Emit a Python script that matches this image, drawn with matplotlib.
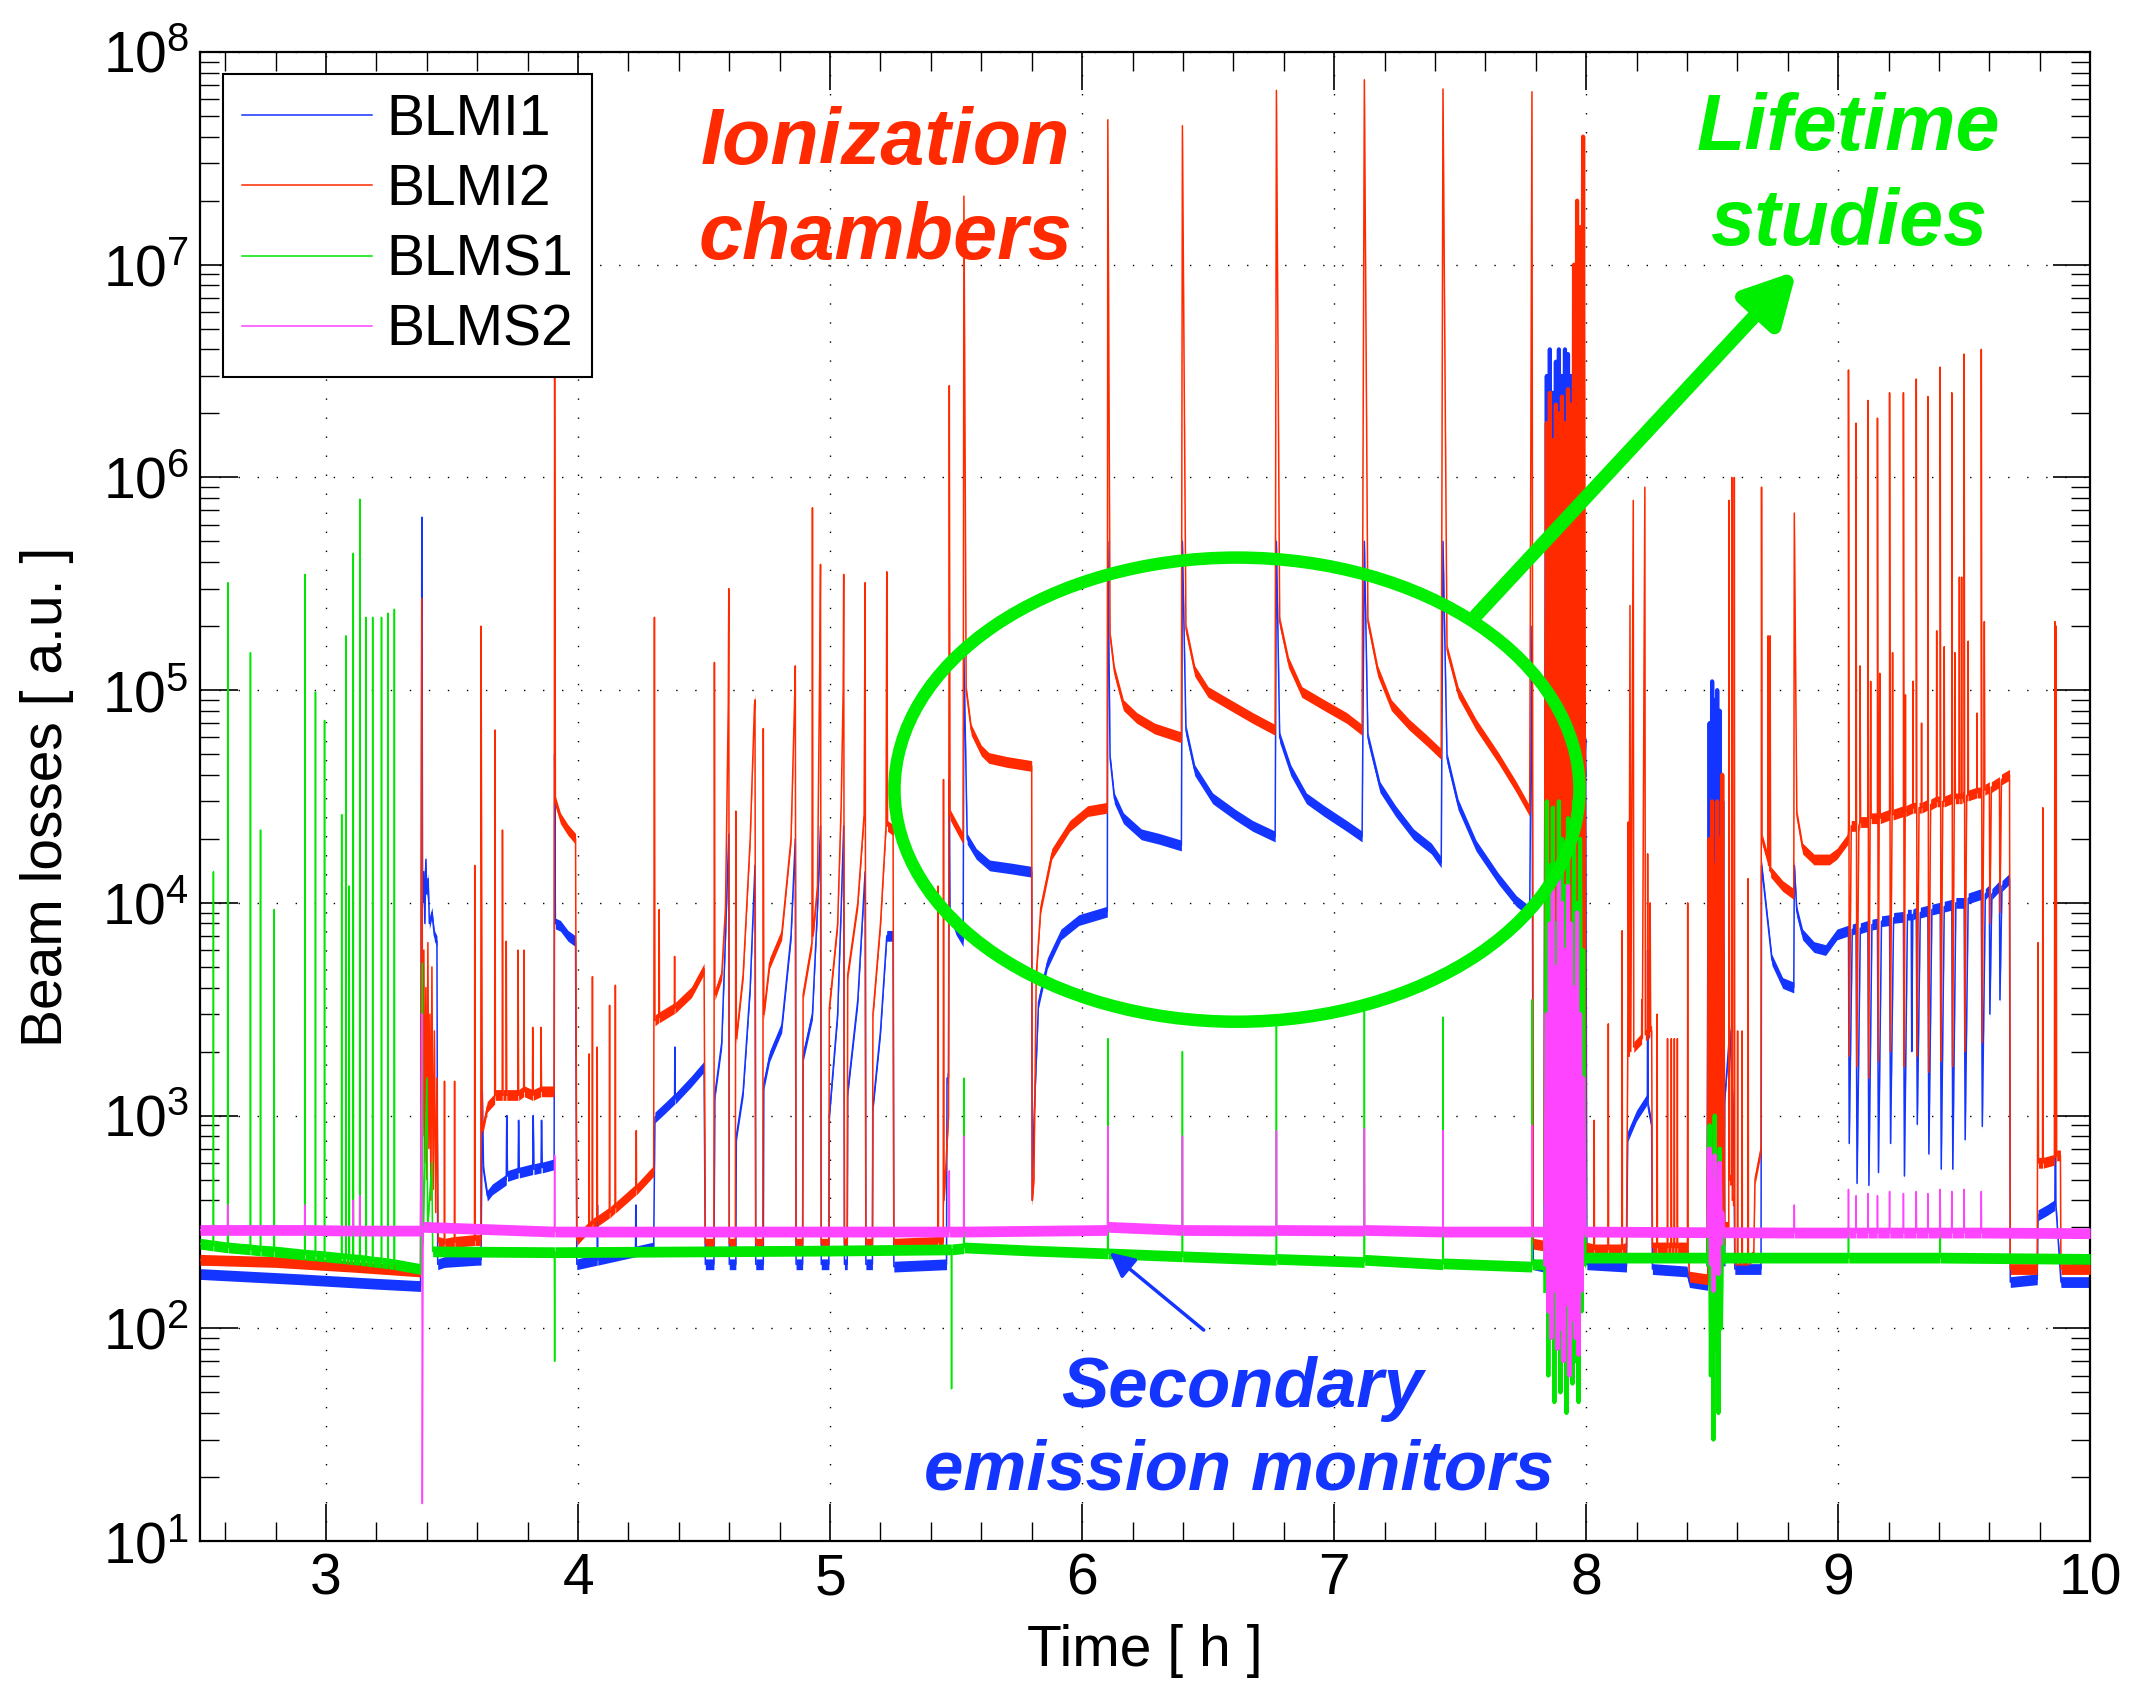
import numpy as np
import matplotlib
matplotlib.use('Agg')
import matplotlib.pyplot as plt
from matplotlib.patches import Ellipse
from matplotlib.ticker import MultipleLocator, LogLocator, NullFormatter

plt.rcParams['font.family'] = ['Liberation Sans', 'DejaVu Sans']
plt.rcParams['mathtext.default'] = 'regular'

# ---- beam loss records: (time [h], signal [a.u.]) breakpoints ----
# shared sample times for the two dump bursts
burst1_t = [7.838, 7.844, 7.850, 7.856, 7.862, 7.868, 7.874, 7.880, 7.886,
            7.892, 7.898, 7.904, 7.910, 7.916, 7.922, 7.928, 7.934, 7.940,
            7.946, 7.952, 7.958, 7.964, 7.970, 7.976, 7.982, 7.988, 7.994]
burst2_t = [8.485, 8.490, 8.495, 8.500, 8.505, 8.510, 8.515, 8.520, 8.525,
            8.530, 8.535, 8.540, 8.545]

# BLMI1 (ionization chamber 1)
blmi1_a = [
    (2.50, 180), (2.90, 170), (3.20, 162), (3.375, 158),
    (3.380, 6.5e5), (3.383, 1.0e4), (3.388, 1.4e4), (3.392, 8.0e3), (3.396, 1.6e4),
    (3.400, 1.1e4), (3.405, 1.3e4), (3.410, 8.0e3), (3.420, 9.0e3), (3.430, 7.0e3),
    (3.440, 6.6e3), (3.443, 200), (3.470, 205), (3.600, 210),
    (3.615, 210), (3.620, 1300), (3.625, 550), (3.640, 420), (3.660, 450),
    (3.715, 500), (3.717, 1000), (3.720, 520),
    (3.762, 540), (3.764, 950), (3.767, 540),
    (3.820, 560), (3.822, 1000), (3.825, 560),
    (3.853, 570), (3.855, 950), (3.858, 570),
    (3.905, 590), (3.907, 5e4), (3.910, 8000), (3.930, 7800), (3.960, 7000),
    (3.990, 6600), (3.995, 200),
    (4.076, 210), (4.077, 380), (4.078, 210),
    (4.228, 230), (4.229, 380), (4.230, 230),
    (4.300, 240), (4.305, 980), (4.350, 1100), (4.383, 1200), (4.384, 2100),
    (4.385, 1200), (4.450, 1450), (4.500, 1700), (4.505, 200),
    (4.539, 200), (4.543, 1260), (4.570, 2200), (4.585, 7000), (4.598, 2.1e4), (4.600, 200),
    (4.626, 200), (4.628, 800), (4.655, 1300), (4.683, 4000), (4.702, 1.5e4), (4.705, 200),
    (4.735, 200), (4.737, 1400), (4.760, 1900), (4.808, 2600), (4.845, 7000),
    (4.862, 2.0e4), (4.865, 200),
    (4.891, 200), (4.893, 1900), (4.930, 3000), (4.950, 9500), (4.962, 2.3e4), (4.965, 200),
    (4.995, 200), (4.997, 1000), (5.030, 3000), (5.044, 9500), (5.054, 2.3e4), (5.057, 200),
    (5.068, 200), (5.070, 1300), (5.110, 3500), (5.139, 1.4e4), (5.142, 200),
    (5.168, 200), (5.170, 1100), (5.200, 2500), (5.225, 7000), (5.250, 7000), (5.253, 195),
    (5.462, 200), (5.464, 1500), (5.470, 1500), (5.473, 3.8e4), (5.476, 9000),
    (5.500, 7500), (5.528, 6600), (5.531, 1.45e5), (5.544, 2.0e4), (5.580, 1.7e4),
    (5.633, 1.5e4), (5.720, 1.45e4), (5.800, 1.4e4), (5.802, 400),
    (5.809, 950), (5.827, 3400), (5.862, 5200), (5.916, 7100), (5.987, 8300), (6.100, 9100),
    (6.102, 5e5), (6.111, 4.8e4), (6.128, 3.1e4), (6.164, 2.5e4), (6.235, 2.1e4),
    (6.306, 2.0e4), (6.394, 1.86e4),
    (6.398, 5e5), (6.412, 6.5e4), (6.447, 4.2e4), (6.518, 3.1e4), (6.607, 2.6e4),
    (6.677, 2.3e4), (6.766, 2.05e4),
    (6.771, 5e5), (6.784, 6.0e4), (6.828, 4.2e4), (6.890, 3.1e4), (6.961, 2.7e4),
    (7.050, 2.3e4), (7.111, 2.05e4),
    (7.120, 5e5), (7.134, 6.0e4), (7.182, 3.5e4), (7.244, 2.7e4), (7.315, 2.1e4),
    (7.386, 1.8e4), (7.425, 1.55e4),
    (7.432, 5e5), (7.448, 4.8e4), (7.492, 2.9e4), (7.563, 1.86e4), (7.652, 1.3e4),
    (7.723, 1.02e4), (7.776, 9100),
    (7.785, 2e5), (7.790, 200), (7.832, 195),
]
blmi1_burst1 = [250, 3e6, 300, 4e6, 250, 2.5e6, 400, 3.5e6, 300, 4e6, 250, 3e6, 350, 4e6,
                300, 3.8e6, 250, 3e6, 400, 1e6, 300, 3e5, 250, 6e5, 300, 6e4, 4e4]
blmi1_b = [
    (7.998, 5.9e4), (8.003, 200), (8.160, 195), (8.165, 800), (8.200, 1000),
    (8.243, 1200), (8.244, 6000), (8.246, 1100), (8.260, 900), (8.263, 190),
    (8.400, 185), (8.410, 165), (8.482, 160),
]
blmi1_burst2 = [200, 7e4, 300, 1.1e5, 250, 9e4, 400, 1e5, 300, 8e4, 250, 3e4, 200]
blmi1_c = [
    (8.550, 1200), (8.570, 2500), (8.585, 1000), (8.590, 190), (8.694, 190),
    (8.696, 1.5e4), (8.737, 5400), (8.780, 4200), (8.824, 4000), (8.826, 1.5e4),
    (8.836, 9100), (8.859, 7100), (8.904, 6200), (8.950, 6000), (8.995, 7100),
    (9.039, 7400), (9.041, 7400), (9.044, 740), (9.056, 7500),
    (9.071, 7600), (9.075, 480), (9.088, 7600),
    (9.118, 7800), (9.122, 470), (9.134, 7900),
    (9.156, 8000), (9.160, 540), (9.172, 8200),
    (9.204, 8300), (9.208, 740), (9.220, 8500),
    (9.259, 8600), (9.263, 520), (9.275, 8800),
    (9.290, 8800), (9.292, 2000), (9.296, 8800),
    (9.310, 9000), (9.314, 910), (9.326, 9000),
    (9.356, 9200), (9.360, 660), (9.372, 9300),
    (9.405, 9500), (9.409, 560), (9.421, 9600),
    (9.451, 9800), (9.455, 560), (9.467, 1.0e4),
    (9.500, 1.0e4), (9.504, 770), (9.516, 1.05e4),
    (9.568, 1.1e4), (9.572, 890), (9.584, 1.1e4),
    (9.600, 1.15e4), (9.602, 3000), (9.610, 1.1e4),
    (9.640, 1.2e4), (9.642, 3500), (9.650, 1.2e4),
    (9.680, 1.3e4), (9.683, 165),
    (9.790, 170), (9.793, 340), (9.830, 360), (9.860, 380), (9.862, 1500),
    (9.864, 380), (9.884, 165), (10.0, 165),
]

# BLMI2 (ionization chamber 2)
blmi2_a = [
    (2.50, 210), (2.80, 205), (3.10, 195), (3.375, 185),
    (3.380, 2.7e5), (3.383, 800), (3.388, 6000), (3.392, 600), (3.396, 4000),
    (3.400, 500), (3.404, 6500), (3.408, 700), (3.412, 3000), (3.416, 400),
    (3.420, 5000), (3.425, 450), (3.430, 2500), (3.435, 350), (3.440, 1500), (3.445, 255),
    (3.469, 250), (3.470, 1450), (3.471, 250),
    (3.509, 255), (3.510, 1450), (3.511, 255),
    (3.589, 260), (3.590, 1.5e4), (3.591, 260),
    (3.614, 260), (3.615, 2e5), (3.620, 850), (3.640, 1100),
    (3.669, 1200), (3.670, 6.5e4), (3.672, 1250),
    (3.699, 1250), (3.700, 2.2e4), (3.702, 1250),
    (3.714, 1250), (3.715, 6600), (3.717, 1250),
    (3.761, 1250), (3.762, 6000), (3.764, 1250),
    (3.784, 1300), (3.785, 6000), (3.787, 1300),
    (3.819, 1250), (3.820, 2600), (3.822, 1250),
    (3.852, 1300), (3.853, 2600), (3.855, 1300),
    (3.905, 1300), (3.907, 3.3e6), (3.910, 3.0e4), (3.930, 2.5e4), (3.960, 2.2e4),
    (3.990, 2.0e4), (3.995, 260),
    (4.043, 300), (4.044, 1950), (4.045, 300),
    (4.056, 310), (4.057, 4500), (4.058, 310),
    (4.075, 320), (4.076, 2100), (4.077, 320),
    (4.124, 350), (4.125, 3300), (4.126, 350),
    (4.147, 370), (4.148, 4100), (4.149, 370),
    (4.230, 450), (4.231, 850), (4.232, 450),
    (4.300, 550), (4.303, 2.2e5), (4.305, 2800),
    (4.321, 2900), (4.322, 9300), (4.323, 2900),
    (4.382, 3200), (4.383, 5600), (4.384, 3200),
    (4.450, 3800), (4.500, 4900), (4.505, 250),
    (4.539, 250), (4.541, 1.35e5), (4.543, 3700), (4.570, 4600), (4.585, 9500),
    (4.596, 8.5e4), (4.598, 3e5), (4.600, 250),
    (4.624, 250), (4.626, 2.7e4), (4.628, 2300), (4.655, 4600), (4.683, 2.0e4),
    (4.700, 8.5e4), (4.702, 9e4), (4.705, 250),
    (4.733, 250), (4.735, 6.6e4), (4.737, 3000), (4.760, 5200), (4.808, 7100),
    (4.845, 2.0e4), (4.860, 9.8e4), (4.862, 1.3e5), (4.865, 250),
    (4.891, 250), (4.893, 3700), (4.928, 6500), (4.930, 7.2e5), (4.932, 7000),
    (4.950, 1.2e4), (4.960, 1.8e5), (4.962, 3.9e5), (4.965, 250),
    (4.995, 250), (4.997, 3200), (5.030, 8000), (5.044, 2.9e4), (5.052, 1e5),
    (5.054, 3.5e5), (5.057, 250),
    (5.068, 250), (5.070, 4600), (5.110, 1.0e4), (5.135, 2.6e4), (5.139, 3.2e5), (5.142, 250),
    (5.168, 250), (5.170, 3000), (5.200, 8000), (5.222, 2.3e4), (5.225, 3.6e5),
    (5.228, 2.3e4), (5.250, 2.2e4), (5.253, 250),
    (5.428, 255), (5.429, 1.2e4), (5.430, 255),
    (5.449, 255), (5.450, 3.8e4), (5.452, 400),
    (5.470, 1000), (5.473, 2.7e6), (5.476, 2.6e4), (5.500, 2.3e4), (5.528, 2.0e4),
    (5.531, 2.1e7), (5.540, 1.0e5), (5.560, 6.5e4), (5.600, 5.2e4), (5.630, 4.8e4),
    (5.700, 4.6e4), (5.800, 4.4e4), (5.802, 400),
    (5.809, 510), (5.818, 4600), (5.836, 9500), (5.880, 1.7e4), (5.951, 2.3e4),
    (6.022, 2.7e4), (6.100, 2.8e4),
    (6.102, 4.8e7), (6.111, 1.8e5), (6.128, 1.23e5), (6.164, 8.5e4), (6.217, 7.4e4),
    (6.288, 6.6e4), (6.394, 6.0e4),
    (6.398, 4.5e7), (6.412, 1.95e5), (6.447, 1.23e5), (6.500, 9.8e4), (6.589, 8.5e4),
    (6.677, 7.4e4), (6.766, 6.5e4),
    (6.771, 6.6e7), (6.784, 2.1e5), (6.819, 1.35e5), (6.872, 9.8e4), (6.961, 8.5e4),
    (7.050, 7.4e4), (7.111, 6.5e4),
    (7.120, 7.4e7), (7.134, 2.1e5), (7.173, 1.23e5), (7.227, 8.5e4), (7.297, 6.9e4),
    (7.368, 5.8e4), (7.425, 5.0e4),
    (7.432, 6.7e7), (7.448, 1.55e5), (7.492, 9.8e4), (7.563, 6.9e4), (7.652, 4.8e4),
    (7.723, 3.5e4), (7.776, 2.7e4),
    (7.785, 6.5e7), (7.790, 250), (7.832, 245),
]
blmi2_burst1 = [400, 1.8e6, 500, 2.5e6, 400, 1.5e6, 600, 2.2e6, 350, 2e6, 500, 2.4e6, 400,
                1.8e6, 600, 2.6e6, 450, 2.2e6, 500, 1e7, 400, 2e7, 500, 1.5e7, 400, 4e7, 300]
blmi2_b = [
    (8.000, 240), (8.031, 235), (8.032, 950), (8.033, 235),
    (8.087, 235), (8.088, 2700), (8.089, 235),
    (8.142, 235), (8.143, 7400), (8.144, 235),
    (8.160, 240), (8.165, 1800), (8.167, 2.4e4), (8.170, 1900), (8.174, 2.5e5),
    (8.177, 2000), (8.187, 7.8e5), (8.189, 2100), (8.220, 2300), (8.221, 3500),
    (8.223, 2300), (8.233, 9e5), (8.235, 2400), (8.243, 2400), (8.244, 1.7e4),
    (8.246, 2400), (8.253, 2500), (8.254, 1.0e4), (8.256, 2500), (8.260, 2500), (8.263, 240),
    (8.281, 240), (8.282, 3000), (8.283, 240),
    (8.322, 240), (8.323, 2300), (8.324, 240),
    (8.337, 240), (8.338, 2300), (8.339, 240),
    (8.349, 240), (8.350, 2300), (8.351, 240),
    (8.361, 240), (8.362, 2300), (8.363, 240),
    (8.402, 240), (8.403, 1.0e4), (8.404, 240),
    (8.410, 175), (8.482, 170),
]
blmi2_burst2 = [230, 2e4, 400, 3e4, 300, 1.5e4, 500, 3e4, 350, 2e4, 300, 4e4, 250]
blmi2_c = [
    (8.550, 300), (8.566, 300), (8.567, 7.8e5), (8.569, 500), (8.577, 500),
    (8.578, 1e6), (8.580, 400), (8.587, 400), (8.588, 1e6), (8.590, 210),
    (8.600, 210), (8.601, 2500), (8.602, 210),
    (8.618, 210), (8.619, 2500), (8.620, 210),
    (8.642, 210), (8.643, 1.3e4), (8.644, 210),
    (8.665, 220), (8.670, 500), (8.694, 700),
    (8.696, 9e5), (8.698, 2.0e4), (8.721, 1.6e4), (8.722, 1.8e5), (8.724, 1.5e4),
    (8.729, 1.5e4), (8.730, 1.8e5), (8.732, 1.4e4), (8.780, 1.2e4), (8.824, 1.1e4),
    (8.826, 6.8e5), (8.836, 2.6e4), (8.859, 1.8e4), (8.904, 1.6e4), (8.965, 1.6e4),
    (8.995, 1.7e4), (9.039, 2.0e4),
    (9.041, 2.2e4), (9.041, 3.2e6), (9.044, 1900), (9.052, 2.3e4),
    (9.071, 2.3e4), (9.071, 1.8e6), (9.074, 1700), (9.082, 2.3e4),
    (9.087, 2.4e4), (9.087, 1.3e5), (9.089, 2.4e4),
    (9.118, 2.4e4), (9.118, 2.3e6), (9.121, 1500), (9.127, 2.4e4),
    (9.129, 1.1e5), (9.131, 2.5e4),
    (9.156, 2.5e4), (9.156, 1.9e6), (9.159, 1800), (9.163, 2.5e4),
    (9.165, 1.2e5), (9.167, 2.5e4),
    (9.204, 2.6e4), (9.204, 2.5e6), (9.207, 2000), (9.214, 2.6e4),
    (9.216, 1.5e5), (9.218, 2.6e4),
    (9.259, 2.7e4), (9.259, 2.5e6), (9.262, 1700), (9.266, 2.7e4),
    (9.267, 9.5e4), (9.268, 2.7e4), (9.296, 2.8e4), (9.297, 1.1e5), (9.298, 2.8e4),
    (9.310, 2.8e4), (9.310, 2.9e6), (9.313, 1900), (9.321, 2.8e4),
    (9.330, 2.8e4), (9.331, 7.0e4), (9.332, 2.8e4),
    (9.356, 2.9e4), (9.356, 2.4e6), (9.359, 1600), (9.367, 2.9e4),
    (9.390, 3.0e4), (9.391, 1.9e5), (9.392, 3.0e4),
    (9.405, 3.0e4), (9.405, 3.3e6), (9.408, 1800), (9.415, 3.0e4),
    (9.420, 3.0e4), (9.421, 1.6e5), (9.422, 3.0e4),
    (9.451, 3.1e4), (9.451, 2.5e6), (9.454, 1700), (9.461, 3.1e4),
    (9.463, 1.5e5), (9.465, 3.1e4), (9.480, 3.1e4), (9.481, 3.4e5), (9.482, 3.1e4),
    (9.489, 3.1e4), (9.490, 3.4e5), (9.491, 3.1e4),
    (9.500, 3.2e4), (9.500, 3.8e6), (9.503, 2000), (9.510, 3.2e4),
    (9.515, 3.2e4), (9.516, 1.7e5), (9.517, 3.2e4), (9.550, 3.3e4), (9.551, 7.8e4),
    (9.552, 3.3e4),
    (9.568, 3.3e4), (9.568, 4.0e6), (9.571, 2200), (9.578, 3.4e4),
    (9.580, 2.1e5), (9.582, 3.4e4),
    (9.600, 3.5e4), (9.602, 8000), (9.608, 3.5e4), (9.640, 3.7e4), (9.642, 9000),
    (9.648, 3.8e4), (9.680, 4.0e4), (9.683, 190),
    (9.790, 190), (9.793, 6500), (9.795, 600), (9.811, 600), (9.812, 2.8e4),
    (9.814, 600), (9.858, 620), (9.860, 2.1e5), (9.862, 640), (9.864, 640),
    (9.865, 2.0e5), (9.867, 650), (9.882, 650), (9.884, 190), (10.0, 190),
]

# BLMS1 (secondary emission monitor 1)
blms1_a = [
    (2.50, 250), (2.552, 245), (2.553, 1.4e4), (2.554, 245),
    (2.609, 240), (2.610, 3.2e5), (2.611, 240),
    (2.699, 235), (2.700, 1.5e5), (2.701, 235),
    (2.739, 232), (2.740, 2.2e4), (2.741, 232),
    (2.793, 230), (2.794, 9300), (2.795, 230),
    (2.915, 222), (2.916, 3.5e5), (2.917, 222),
    (2.957, 220), (2.958, 9.8e4), (2.959, 220),
    (2.993, 218), (2.994, 7.2e4), (2.995, 218),
    (3.061, 214), (3.062, 2.6e4), (3.063, 214),
    (3.078, 213), (3.079, 1.8e5), (3.080, 213),
    (3.091, 212), (3.092, 1.2e4), (3.093, 212),
    (3.107, 211), (3.108, 4.4e5), (3.109, 211),
    (3.133, 210), (3.134, 7.9e5), (3.135, 210),
    (3.158, 208), (3.159, 2.2e5), (3.160, 208),
    (3.184, 206), (3.185, 2.2e5), (3.186, 206),
    (3.219, 204), (3.220, 2.2e5), (3.221, 204),
    (3.245, 202), (3.246, 2.3e5), (3.247, 202),
    (3.270, 200), (3.271, 2.4e5), (3.272, 200),
    (3.375, 190), (3.382, 5200), (3.385, 250), (3.400, 1500), (3.403, 300),
    (3.420, 600), (3.423, 230), (3.906, 228), (3.907, 70), (3.908, 228),
    (4.500, 230), (5.000, 232), (5.481, 235), (5.482, 52), (5.483, 235),
    (5.530, 238), (5.531, 1500), (5.532, 240), (5.800, 232),
    (6.101, 225), (6.102, 2300), (6.103, 225),
    (6.397, 218), (6.398, 2000), (6.399, 218),
    (6.770, 210), (6.771, 2900), (6.772, 212),
    (7.119, 205), (7.120, 3100), (7.121, 210),
    (7.431, 200), (7.432, 2900), (7.433, 202),
    (7.784, 195), (7.785, 3500), (7.786, 200), (7.832, 200),
]
blms1_burst1 = [150, 3e4, 60, 1.5e4, 100, 2.8e4, 45, 8e3, 120, 3e4, 50, 2e4, 80, 1.2e4,
                40, 2.5e4, 90, 5e3, 55, 3e4, 70, 1e4, 45, 2e4, 120, 6e3, 200]
blms1_b = [(8.000, 215), (8.482, 215)]
blms1_burst2 = [200, 900, 60, 600, 30, 1000, 80, 400, 40, 700, 100, 300, 210]
blms1_c = [(8.550, 215), (9.040, 215), (9.041, 300), (9.042, 215),
           (9.404, 215), (9.405, 300), (9.406, 215), (10.0, 212)]

# BLMS2 (secondary emission monitor 2)
blms2_a = [
    (2.50, 290), (2.609, 290), (2.610, 380), (2.611, 290),
    (2.915, 290), (2.916, 380), (2.917, 290),
    (3.107, 288), (3.108, 400), (3.109, 288),
    (3.133, 288), (3.134, 420), (3.135, 288),
    (3.375, 288), (3.380, 3000), (3.382, 15), (3.385, 300),
    (3.906, 285), (3.907, 650), (3.908, 285),
    (5.472, 285), (5.473, 550), (5.474, 285),
    (5.530, 285), (5.531, 800), (5.532, 285),
    (6.101, 290), (6.102, 890), (6.103, 300),
    (6.397, 290), (6.398, 800), (6.399, 290),
    (6.770, 288), (6.771, 850), (6.772, 290),
    (7.119, 288), (7.120, 870), (7.121, 290),
    (7.431, 285), (7.432, 850), (7.433, 285),
    (7.784, 285), (7.785, 900), (7.786, 285), (7.832, 285),
]
blms2_burst1 = [200, 3e3, 120, 8e3, 90, 1.2e4, 150, 5e3, 80, 1.5e4, 100, 1e4, 70, 6e3,
                130, 1.2e4, 60, 8e3, 110, 4e3, 90, 9e3, 75, 3e3, 150, 1.5e3, 280]
blms2_b = [(7.998, 285), (8.482, 283)]
blms2_burst2 = [280, 700, 200, 500, 150, 650, 220, 400, 180, 600, 250, 350, 280]
blms2_c = [
    (8.550, 283), (8.825, 282), (8.826, 380), (8.827, 282),
    (9.040, 282), (9.041, 450), (9.042, 282),
    (9.070, 282), (9.071, 420), (9.072, 282),
    (9.117, 282), (9.118, 430), (9.119, 282),
    (9.155, 282), (9.156, 420), (9.157, 282),
    (9.203, 282), (9.204, 440), (9.205, 282),
    (9.258, 282), (9.259, 430), (9.260, 282),
    (9.309, 282), (9.310, 440), (9.311, 282),
    (9.355, 282), (9.356, 430), (9.357, 282),
    (9.404, 282), (9.405, 450), (9.406, 282),
    (9.450, 282), (9.451, 440), (9.452, 282),
    (9.499, 282), (9.500, 450), (9.501, 282),
    (9.567, 282), (9.568, 440), (9.569, 282),
    (10.0, 280),
]

C_BLUE = '#1434FF'
C_RED = '#FF2A00'
C_GREEN = '#00E600'
C_MAGENTA = '#FF44FF'
C_NOTE_GREEN = '#00EE00'


def join(a, burst1, b, burst2, c):
    a, b, c = np.array(a), np.array(b), np.array(c)
    t = np.concatenate([a[:, 0], burst1_t, b[:, 0], burst2_t, c[:, 0]])
    v = np.concatenate([a[:, 1], burst1, b[:, 1], burst2, c[:, 1]])
    return t, v


records = [
    ('BLMI1', C_BLUE, join(blmi1_a, blmi1_burst1, blmi1_b, blmi1_burst2, blmi1_c),
     blmi1_burst1, blmi1_burst2),
    ('BLMI2', C_RED, join(blmi2_a, blmi2_burst1, blmi2_b, blmi2_burst2, blmi2_c),
     blmi2_burst1, blmi2_burst2),
    ('BLMS1', C_GREEN, join(blms1_a, blms1_burst1, blms1_b, blms1_burst2, blms1_c),
     blms1_burst1, blms1_burst2),
    ('BLMS2', C_MAGENTA, join(blms2_a, blms2_burst1, blms2_b, blms2_burst2, blms2_c),
     blms2_burst1, blms2_burst2),
]

fig = plt.figure(figsize=(21.35, 16.82), dpi=100)
ax = fig.add_axes([0.0937, 0.0838, 0.8853, 0.8853])

for k, (name, col, (t, v), b1, b2) in enumerate(records):
    # thin noise band around each trace
    ax.fill_between(t, v / 1.06, v * 1.06, color=col, lw=0, zorder=2 + k)
    ax.plot(t, v, color=col, lw=1.1, label=name, zorder=2 + k)
    # the dump bursts are dense enough to look solid
    ax.plot(burst1_t, b1, color=col, lw=3.0, zorder=2 + k)
    ax.plot(burst2_t, b2, color=col, lw=3.0, zorder=2 + k)

ax.set_yscale('log')
ax.set_xlim(2.5, 10)
ax.set_ylim(10, 1e8)
ax.set_xticks(range(3, 11))
ax.set_yticks(10.0 ** np.arange(1, 9))
ax.xaxis.set_minor_locator(MultipleLocator(0.2))
ax.yaxis.set_minor_locator(LogLocator(base=10, subs=np.arange(2, 10), numticks=20))
ax.yaxis.set_minor_formatter(NullFormatter())
ax.tick_params(which='both', direction='in', top=True, right=True, labelsize=41, pad=8)
ax.tick_params(which='major', length=27, width=1.2)
ax.tick_params(which='minor', length=13.5, width=1.0)
for s in ax.spines.values():
    s.set_linewidth(1.6)
ax.grid(True, which='major', color='k', lw=1.0, linestyle=(0, (1, 12.7)), zorder=1)

ax.set_xlabel('Time [ h ]', fontsize=41)
ax.xaxis.set_label_coords(0.5, -0.056)
ax.set_ylabel('Beam losses [ a.u. ]', fontsize=41, labelpad=20)

leg = ax.legend(loc='upper left', bbox_to_anchor=(0.012, 0.985), fontsize=41,
                fancybox=False, edgecolor='k', framealpha=1, borderpad=0.33,
                labelspacing=0.285, handlelength=2.3, handletextpad=0.25,
                borderaxespad=0)
leg.get_frame().set_linewidth(1.5)
leg.set_zorder(20)

# annotations
note = dict(transform=ax.transAxes, ha='center', va='baseline',
            fontweight='bold', fontstyle='italic', zorder=15)
ax.text(0.3624, 0.9248, 'Ionization', color=C_RED, fontsize=57, **note)
ax.text(0.3624, 0.8613, 'chambers', color=C_RED, fontsize=57, **note)
ax.text(0.872, 0.9342, 'Lifetime', color=C_NOTE_GREEN, fontsize=57, **note)
ax.text(0.872, 0.8704, 'studies', color=C_NOTE_GREEN, fontsize=57, **note)
ax.text(0.5516, 0.090, 'Secondary', color=C_BLUE, fontsize=51, **note)
ax.text(0.5497, 0.0349, 'emission monitors', color=C_BLUE, fontsize=51, **note)

ax.add_patch(Ellipse((0.5486, 0.5046), 0.3624, 0.3117, transform=ax.transAxes,
                     fill=False, ec=C_NOTE_GREEN, lw=9, zorder=14))
ax.annotate('', xy=(0.8447, 0.853), xytext=(0.6751, 0.6216),
            xycoords='axes fraction', textcoords='axes fraction',
            arrowprops=dict(arrowstyle='-|>,head_length=0.3,head_width=0.16',
                            mutation_scale=100, color=C_NOTE_GREEN, lw=10,
                            shrinkA=0, shrinkB=0), zorder=14)
ax.annotate('', xy=(0.4813, 0.1938), xytext=(0.531, 0.1417),
            xycoords='axes fraction', textcoords='axes fraction',
            arrowprops=dict(arrowstyle='-|>,head_length=0.5,head_width=0.25',
                            mutation_scale=30, color=C_BLUE, lw=2.5,
                            shrinkA=0, shrinkB=0), zorder=14)

fig.savefig('out.png', dpi=100)
